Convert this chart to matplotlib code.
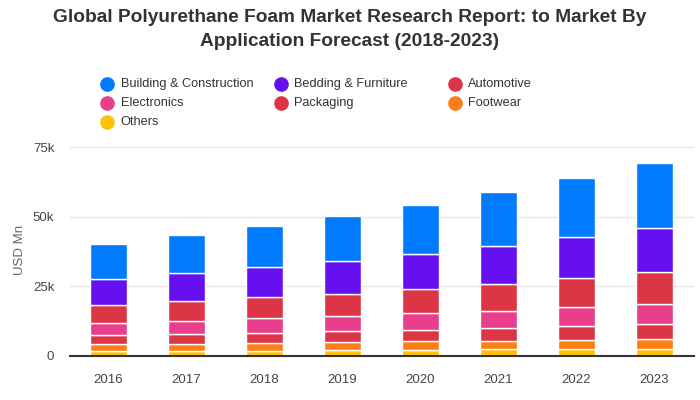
import matplotlib
matplotlib.use("Agg")
import matplotlib.pyplot as plt
from matplotlib.lines import Line2D

plt.rcParams['font.family'] = ['Liberation Sans', 'DejaVu Sans']

years = ["2016", "2017", "2018", "2019", "2020", "2021", "2022", "2023"]
series_names = ["Building & Construction", "Bedding & Furniture", "Automotive",
                "Electronics", "Packaging", "Footwear", "Others"]
colors = ["#007bff", "#6610f2", "#dc3545", "#e83e8c", "#dc3545", "#fd7e14", "#ffc107"]

building = [12700, 13800, 14800, 16300, 17700, 19500, 21300, 23400]
bedding = [9200, 10100, 10800, 11600, 12500, 13600, 14700, 15800]
automotive = [6600, 7100, 7600, 8100, 8700, 9700, 10400, 11500]
electronics = [4300, 4700, 5300, 5400, 6100, 6200, 6800, 7200]
packaging = [3200, 3600, 3600, 4000, 3900, 4600, 5100, 5200]
footwear = [2500, 2500, 2700, 2900, 3300, 2900, 3200, 3600]
others = [1700, 1700, 1900, 2000, 2000, 2400, 2400, 2600]

data = [building, bedding, automotive, electronics, packaging, footwear, others]

fig = plt.figure(figsize=(7, 4), dpi=100)
ax = fig.add_axes([69.5 / 700, 44 / 400, 624 / 700, 208.7 / 400])

x = list(range(len(years)))
bottom = [0] * len(years)
for name, vals, col in reversed(list(zip(series_names, data, colors))):
    ax.bar(x, vals, bottom=bottom, width=0.475, color=col, edgecolor="white",
           linewidth=1, zorder=3)
    bottom = [b + v for b, v in zip(bottom, vals)]

ax.set_xlim(-0.5, len(years) - 0.5)
ax.set_ylim(0, 75000)
ax.set_yticks([0, 25000, 50000, 75000])
ax.set_yticklabels(["0", "25k", "50k", "75k"])
ax.set_xticks(x)
ax.set_xticklabels(years)
ax.grid(axis="y", color="#e6e6e6", linewidth=1, zorder=0)
for s in ["left", "right", "top"]:
    ax.spines[s].set_visible(False)
ax.spines["bottom"].set_color("#333333")
ax.spines["bottom"].set_linewidth(1.5)
ax.spines["bottom"].set_zorder(4)
ax.tick_params(axis="both", length=0, labelsize=9.5, colors="#444444")
ax.tick_params(axis="y", pad=11)
ax.tick_params(axis="x", pad=13)
fig.text(20 / 700, 1 - 250 / 400, "USD Mn", rotation=90, ha="center", va="center",
         fontsize=9.5, color="#666666")

fig.text(0.5, 1 - 18 / 400, "Global Polyurethane Foam Market Research Report: to Market By",
         ha="center", va="center", fontsize=13.8, fontweight="bold", color="#333333")
fig.text(0.5, 1 - 42 / 400, "Application Forecast (2018-2023)",
         ha="center", va="center", fontsize=13.8, fontweight="bold", color="#333333")

marker_x = [106.7, 281, 455]
text_x = [120.7, 294.3, 468.3]
row_y = [84, 102.7, 121.7]
for i, (name, col) in enumerate(zip(series_names, colors)):
    r, c = divmod(i, 3)
    fig.add_artist(Line2D([marker_x[c] / 700], [1 - row_y[r] / 400], marker="o",
                          markersize=9.5, color=col, linestyle="none",
                          transform=fig.transFigure))
    fig.text(text_x[c] / 700, 1 - row_y[r] / 400, name, ha="left", va="center",
             fontsize=9.2, color="#333333")

fig.savefig("out.png", dpi=100)
